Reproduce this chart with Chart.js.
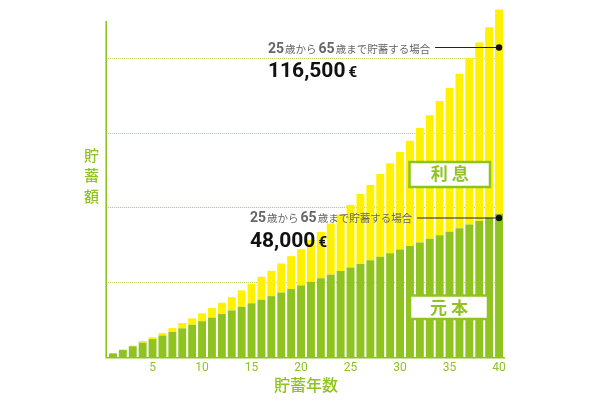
<!DOCTYPE html>
<html lang="ja">
<head>
<meta charset="utf-8">
<script src="https://cdn.jsdelivr.net/npm/chart.js@4.4.1/dist/chart.umd.min.js"></script>
<style>
	html, body { margin: 0; padding: 0; background: #fff; }
</style>
</head>
<body>
<canvas id="savingsChart" width="610" height="400"></canvas>
<script>
// 貯蓄年数
const years = ["1", "2", "3", "4", "5", "6", "7", "8", "9", "10",
	"11", "12", "13", "14", "15", "16", "17", "18", "19", "20",
	"21", "22", "23", "24", "25", "26", "27", "28", "29", "30",
	"31", "32", "33", "34", "35", "36", "37", "38", "39", "40"];

// 元本（€）
const principal = [1200, 2400, 3600, 4800, 6000, 7200, 8400, 9600, 10800, 12000,
	13200, 14400, 15600, 16800, 18000, 19200, 20400, 21600, 22800, 24000,
	25200, 26400, 27600, 28800, 30000, 31200, 32400, 33600, 34800, 36000,
	37200, 38400, 39600, 40800, 42000, 43200, 44400, 45600, 46800, 48000];

// 利息（€）
const interest = [100, 40, 200, 550, 600, 830, 1300, 1780, 2150, 2630,
	3200, 3770, 4480, 5520, 6530, 7680, 8480, 9760, 11000, 12150,
	14060, 15540, 17150, 18960, 20980, 23460, 25270, 27750, 30130, 32720,
	35330, 38350, 41400, 44980, 48140, 51750, 55780, 59830, 63750, 68500];

// 目盛り
const xTickLabels = ["5", "10", "15", "20", "25", "30", "35", "40"];
const gridValues = [25000, 50000, 75000, 100000];

const GREEN = "#8fc31f";
const YELLOW = "#fff100";
const GRAY = "#666666";
const JP = '"Noto Sans CJK JP", sans-serif';
const NUM = 'Roboto, "Open Sans", sans-serif';

// 注記・ラベルの描画
const decoPlugin = {
	id: "deco",
	afterDraw(chart) {
		const { ctx, chartArea: ca } = chart;
		const last = chart.getDatasetMeta(0).data[years.length - 1];
		ctx.save();

		// 軸線
		ctx.strokeStyle = GREEN;
		ctx.lineWidth = 1.6;
		ctx.beginPath();
		ctx.moveTo(ca.left - 1.8, ca.top + 16);
		ctx.lineTo(ca.left - 1.8, ca.bottom + 0.8);
		ctx.lineTo(ca.right + 1, ca.bottom + 0.8);
		ctx.stroke();

		// 縦軸タイトル
		ctx.fillStyle = GREEN;
		ctx.font = "500 15px " + JP;
		ctx.textAlign = "center";
		ctx.textBaseline = "middle";
		["貯", "蓄", "額"].forEach((ch, i) => {
			ctx.fillText(ch, ca.left - 16.5, 155 + i * 20.5);
		});

		// 利息 / 元本 のボックス
		drawBox(ctx, 409.5, 162, 80.5, 25, ["利", "息"], 173.5);
		drawBox(ctx, 410, 295.5, 78, 23.5, ["元", "本"], 307.5);

		// 注記
		drawNote(ctx, 268, 53, 47.5, "116,500", 77, last.x);
		drawNote(ctx, 250, 222, 218, "48,000", 247, last.x);

		ctx.restore();
	},
};

function drawBox(ctx, x, y, w, h, chars, textY) {
	ctx.fillStyle = "#fff";
	ctx.fillRect(x, y, w, h);
	ctx.strokeStyle = GREEN;
	ctx.lineWidth = 2.5;
	ctx.strokeRect(x, y, w, h);
	ctx.fillStyle = GREEN;
	ctx.font = "700 17px " + JP;
	ctx.textAlign = "center";
	ctx.textBaseline = "middle";
	const cx = x + w / 2;
	ctx.fillText(chars[0], cx - 10.5, textY);
	ctx.fillText(chars[1], cx + 10.5, textY);
}

function drawNote(ctx, x, baseY, lineY, amount, amountY, dotX) {
	const parts = [
		{ text: "25", font: "700 14px " + NUM, gap: 1 },
		{ text: "歳から", font: "10.5px " + JP, gap: 2 },
		{ text: "65", font: "700 14px " + NUM, gap: 1 },
		{ text: "歳まで貯蓄する場合", font: "10.5px " + JP, gap: 0 },
	];
	ctx.fillStyle = GRAY;
	ctx.textAlign = "left";
	ctx.textBaseline = "alphabetic";
	let cx = x;
	parts.forEach((p) => {
		ctx.font = p.font;
		ctx.fillText(p.text, cx, baseY);
		cx += ctx.measureText(p.text).width + p.gap;
	});

	// 引き出し線と点
	ctx.strokeStyle = "#222";
	ctx.lineWidth = 1.2;
	ctx.beginPath();
	ctx.moveTo(cx + 5, lineY);
	ctx.lineTo(dotX, lineY);
	ctx.stroke();
	ctx.fillStyle = "#111";
	ctx.beginPath();
	ctx.arc(dotX, lineY, 3.2, 0, Math.PI * 2);
	ctx.fill();

	// 金額
	ctx.fillStyle = "#111";
	ctx.font = "700 21px " + NUM;
	ctx.fillText(amount, x, amountY);
	const w = ctx.measureText(amount).width;
	ctx.font = "700 15px " + NUM;
	ctx.fillText("€", x + w + 3, amountY);
}

const data = {
	labels: years,
	datasets: [
		{
			label: "元本",
			data: principal,
			backgroundColor: GREEN,
			borderWidth: 0,
		},
		{
			label: "利息",
			data: interest,
			backgroundColor: YELLOW,
			borderWidth: 0,
		},
	],
};

const config = {
	type: "bar",
	data: data,
	options: {
		responsive: false,
		animation: false,
		events: [],
		barPercentage: 0.8,
		categoryPercentage: 1,
		layout: {
			padding: { top: 5, left: 108, right: 106, bottom: 0 },
		},
		plugins: {
			legend: { display: false },
			tooltip: { enabled: false },
		},
		scales: {
			x: {
				stacked: true,
				grid: { display: false, drawTicks: false },
				border: { display: false },
				ticks: {
					autoSkip: false,
					maxRotation: 0,
					padding: 4,
					color: GREEN,
					font: { family: NUM, size: 12 },
					callback: (value, i) => (xTickLabels.includes(years[i]) ? years[i] : ""),
				},
				title: {
					display: true,
					text: "貯蓄年数",
					color: GREEN,
					font: { family: JP, size: 16, weight: "500" },
					padding: { top: 0, bottom: 5 },
				},
				afterFit: (scale) => {
					scale.height = 43;
				},
			},
			y: {
				stacked: true,
				min: 0,
				max: 118000,
				z: 1,
				border: { display: false, dash: [1, 1] },
				grid: { color: "#b5d462", lineWidth: 1, drawTicks: false },
				ticks: { display: false },
				afterBuildTicks: (scale) => {
					scale.ticks = gridValues.map((v) => ({ value: v }));
				},
				afterFit: (scale) => {
					scale.width = 0;
				},
			},
		},
	},
	plugins: [decoPlugin],
};

const savingsChart = new Chart(document.getElementById("savingsChart"), config);
</script>
</body>
</html>
